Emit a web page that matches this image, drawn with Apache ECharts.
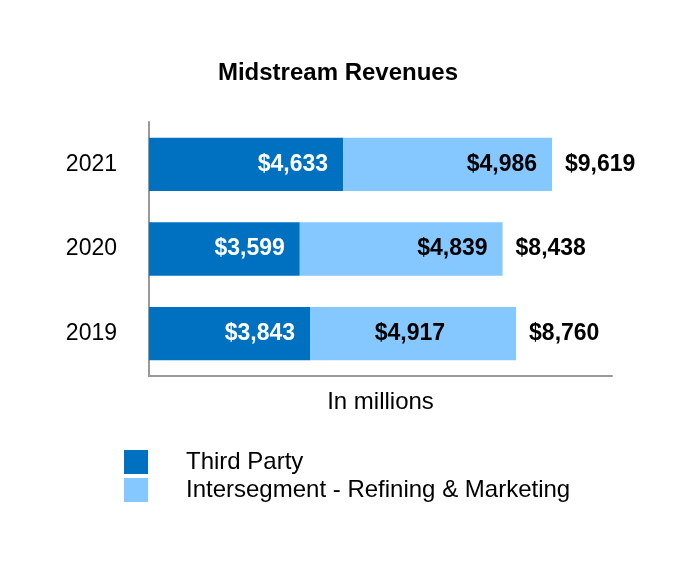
<!DOCTYPE html>
<html>
<head>
<meta charset="utf-8">
<script src="https://cdn.jsdelivr.net/npm/echarts@6/dist/echarts.min.js"></script>
<style>html,body{margin:0;padding:0;background:#fff}#c{width:676px;height:578px}</style>
</head>
<body>
<div id="c"></div>
<script>
var years = ['2019', '2020', '2021'];
var thirdParty = [3843, 3599, 4633];
var intersegment = [4917, 4839, 4986];
var totals = [8760, 8438, 9619];

function fmt(v) { return '$' + v.toLocaleString('en-US'); }

var chart = echarts.init(document.getElementById('c'));
var font = 'Liberation Sans, Arial, sans-serif';
var interData = intersegment.map(function (v, i) {
  // 2019's label sits further in from the bar end in the reference
  return i === 0 ? { value: v, label: { distance: 71 } } : v;
});
chart.setOption({
  animation: false,
  title: {
    text: 'Midstream Revenues', left: 'center', top: 61, padding: 0,
    textStyle: { fontFamily: font, fontSize: 24, fontWeight: 'bold', color: '#000' }
  },
  legend: {
    orient: 'vertical', left: 124, top: 450, itemWidth: 24, itemHeight: 24, itemGap: 4,
    padding: 0, icon: 'rect',
    textStyle: { fontFamily: font, fontSize: 24, color: '#000', padding: [3, 0, 0, 33] },
    data: ['Third Party', 'Intersegment - Refining & Marketing']
  },
  grid: { left: 149, right: 64, top: 122, bottom: 202 },
  xAxis: {
    type: 'value', min: 0, max: 11050,
    name: 'In millions', nameLocation: 'middle', nameGap: 14,
    nameTextStyle: { fontFamily: font, fontSize: 24, color: '#000', verticalAlign: 'top' },
    axisLine: { show: true, lineStyle: { color: '#999', width: 2 } },
    axisTick: { show: false }, axisLabel: { show: false }, splitLine: { show: false }
  },
  yAxis: {
    type: 'category', data: years,
    axisLine: { show: true, lineStyle: { color: '#999', width: 2 } },
    axisTick: { show: false },
    axisLabel: { fontFamily: font, fontSize: 23, color: '#000', margin: 32 }
  },
  series: [
    {
      name: 'Third Party', type: 'bar', stack: 'a', data: thirdParty, barCategoryGap: '37%',
      itemStyle: { color: '#0070C0' },
      label: { show: true, position: 'insideRight', distance: 15, color: '#fff',
        fontFamily: font, fontSize: 23, fontWeight: 'bold',
        formatter: function (p) { return fmt(p.value); } }
    },
    {
      name: 'Intersegment - Refining & Marketing', type: 'bar', stack: 'a', data: interData,
      itemStyle: { color: '#85C7FF' },
      label: { show: true, position: 'insideRight', distance: 15, color: '#000',
        fontFamily: font, fontSize: 23, fontWeight: 'bold',
        formatter: function (p) { return fmt(p.value); } }
    },
    {
      name: 'Total', type: 'bar', data: totals, barGap: '-100%', silent: true,
      itemStyle: { color: 'rgba(0,0,0,0)' }, z: 1,
      label: { show: true, position: 'right', distance: 13, color: '#000',
        fontFamily: font, fontSize: 23, fontWeight: 'bold',
        formatter: function (p) { return fmt(p.value); } }
    }
  ]
});
</script>
</body>
</html>
